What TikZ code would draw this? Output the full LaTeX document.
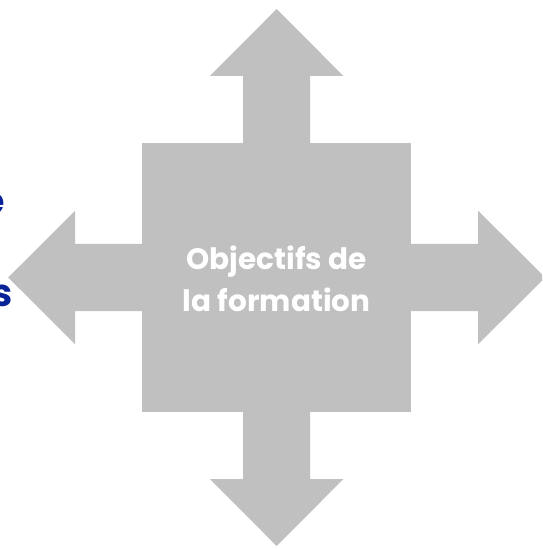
\documentclass[tikz,border=0pt]{standalone}
\usepackage{fontspec}
\setmainfont{Poppins}
\definecolor{arrowgray}{RGB}{192,192,192}
\definecolor{titleblue}{RGB}{10,35,150}
\tikzset{
  centre/.style={text=white, font=\fontsize{29.5}{42}\selectfont\bfseries, align=center},
  sidetext/.style={text=titleblue, font=\fontsize{38}{45}\selectfont\bfseries, anchor=base east, inner sep=0pt}
}
\begin{document}
\begin{tikzpicture}[x=1pt,y=1pt]
\useasboundingbox (-276.7,-271.5) rectangle (265.3,277.5);
\clip (-276.7,-271.5) rectangle (265.3,277.5);
% square in the middle
\fill[arrowgray] (-134.3,-134.3) rectangle (134.3,134.3);
% the four arrows
\foreach \a in {0,90,180,270}
  \fill[arrowgray, rotate=\a]
    (0,130) -- (33.5,130) -- (33.5,201.5) -- (66.7,201.5) -- (0,268.5)
    -- (-66.7,201.5) -- (-33.5,201.5) -- (-33.5,130) -- cycle;
\node[centre] (objectifs) at (0,-1) {Objectifs de\\la formation};
\node[sidetext] (motE) at (-271.5,62.5) {e};
\node[sidetext] (motS) at (-264.2,-28.5) {s};
\end{tikzpicture}
\end{document}
